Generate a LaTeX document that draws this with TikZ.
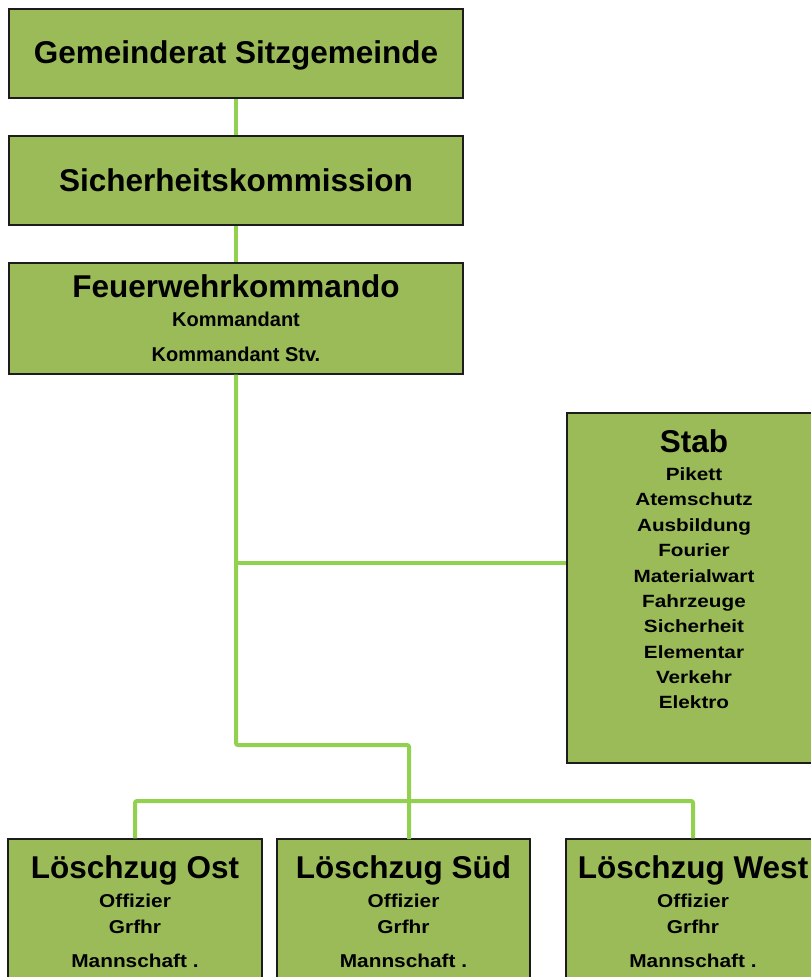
\documentclass[tikz,border=0pt]{standalone}
\usepackage{fontspec}
\usepackage{graphicx}
\setmainfont{Liberation Sans}
\definecolor{boxgreen}{HTML}{9BBB59}
\definecolor{linegreen}{HTML}{92D050}
\definecolor{edge}{HTML}{1C1C1C}
\newcommand{\titlefont}{\bfseries\fontsize{31.5}{36}\selectfont}
\newcommand{\kfont}{\bfseries\fontsize{20}{24}\selectfont}
\newcommand{\stabline}[1]{\scalebox{1.17}[1]{\bfseries\fontsize{17.7}{21}\selectfont #1}}
\newcommand{\zugline}[1]{\scalebox{1.12}[1]{\bfseries\fontsize{18.6}{22}\selectfont #1}}
\tikzset{
  orgbox/.style={draw=edge, line width=1.2pt, fill=boxgreen, inner sep=0pt, rectangle},
  conn/.style={draw=linegreen, line width=4pt, rounded corners=2pt},
  lab/.style={anchor=base, inner sep=0pt, text=black},
}
\begin{document}
\begin{tikzpicture}[x=1pt, y=-1pt]
\useasboundingbox (0,0) rectangle (811,977);
\clip (0,0) rectangle (811,977);
% connectors (drawn first, beneath boxes)
\node[orgbox, minimum width=454pt, minimum height=89pt] (gem) at (236,53.5) {};
\node[orgbox, minimum width=454pt, minimum height=89pt] (sich) at (236,180.5) {};
\node[orgbox, minimum width=454pt, minimum height=111pt] (feu) at (236,318.5) {};
\node[orgbox, minimum width=254pt, minimum height=350pt] (stab) at (694,588) {};
\node[orgbox, minimum width=254pt, minimum height=171pt] (ost) at (135,924.5) {};
\node[orgbox, minimum width=253pt, minimum height=171pt] (sued) at (403.5,924.5) {};
\node[orgbox, minimum width=254pt, minimum height=171pt] (west) at (693,924.5) {};

\coordinate (sj) at (236,563);
\coordinate (bend) at (236,745);
\coordinate (bend2) at (409,745);
\coordinate (sdrop) at (409,839);
\coordinate (bus) at (0,801);

\draw[conn] (gem.south) -- (sich.north);
\draw[conn] (sich.south) -- (feu.north);
\draw[conn] (feu.south) -- (bend) -- (bend2) -- (sdrop);
\draw[conn] (sj) -- (sj -| stab.west);
\draw[conn] (ost.north) -- (ost.north |- bus) -- (west.north |- bus) -- (west.north);

% texts
\node[lab] (t1) at (236,63) {\titlefont Gemeinderat Sitzgemeinde};
\node[lab] (t2) at (236,191) {\titlefont Sicherheitskommission};
\node[lab] (t3) at (236,297) {\titlefont Feuerwehrkommando};
\node[lab] (t3a) at (236,326) {\kfont Kommandant};
\node[lab] (t3b) at (236,361) {\kfont Kommandant Stv.};

\node[lab] (s0) at (694,452) {\titlefont Stab};
\node[lab] (s1) at (694,480) {\stabline{Pikett}};
\node[lab] (s2) at (694,505.5) {\stabline{Atemschutz}};
\node[lab] (s3) at (694,531) {\stabline{Ausbildung}};
\node[lab] (s4) at (694,556.5) {\stabline{Fourier}};
\node[lab] (s5) at (694,582) {\stabline{Materialwart}};
\node[lab] (s6) at (694,607) {\stabline{Fahrzeuge}};
\node[lab] (s7) at (694,632.5) {\stabline{Sicherheit}};
\node[lab] (s8) at (694,658) {\stabline{Elementar}};
\node[lab] (s9) at (694,683.5) {\stabline{Verkehr}};
\node[lab] (s10) at (694,708) {\stabline{Elektro}};

\node[lab] (o0) at (135,878) {\titlefont Löschzug Ost};
\node[lab] (o1) at (135,907) {\zugline{Offizier}};
\node[lab] (o2) at (135,933) {\zugline{Grfhr}};
\node[lab] (o3) at (135,967) {\zugline{Mannschaft .}};

\node[lab] (u0) at (403.5,878) {\titlefont Löschzug Süd};
\node[lab] (u1) at (403.5,907) {\zugline{Offizier}};
\node[lab] (u2) at (403.5,933) {\zugline{Grfhr}};
\node[lab] (u3) at (403.5,967) {\zugline{Mannschaft .}};

\node[lab] (w0) at (693,878) {\titlefont Löschzug West};
\node[lab] (w1) at (693,907) {\zugline{Offizier}};
\node[lab] (w2) at (693,933) {\zugline{Grfhr}};
\node[lab] (w3) at (693,967) {\zugline{Mannschaft .}};
\end{tikzpicture}
\end{document}
